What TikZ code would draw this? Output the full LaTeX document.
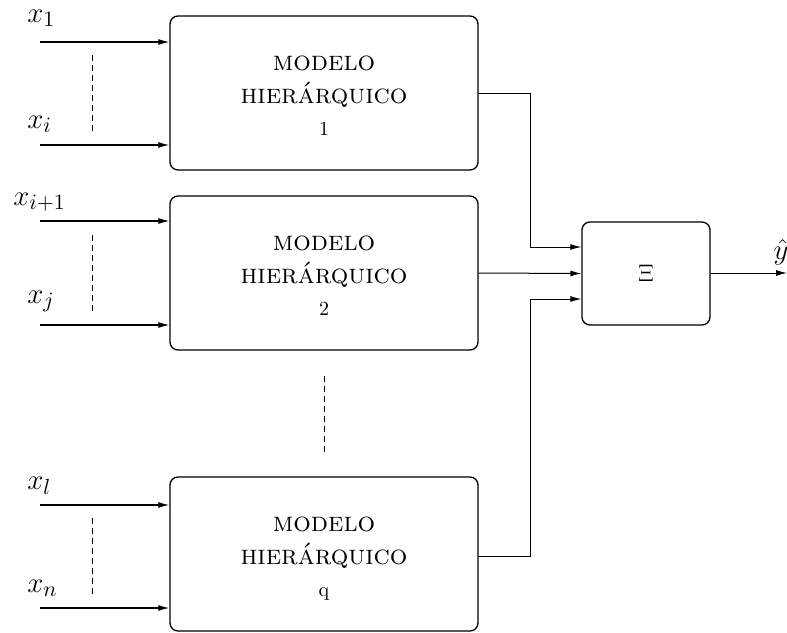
\documentclass[tikz,border=0pt]{standalone}
\usetikzlibrary{arrows.meta}
\newcommand\xlab[1]{$x_{\hbox{\fontsize{11}{13}\selectfont$#1$}}$}
\begin{document}
\begin{tikzpicture}[x=0.5pt,y=-0.5pt,
  modbox/.style={draw, line width=0.65pt, rounded corners=4pt, minimum width=154pt, minimum height=77pt, inner sep=0pt},
  xibox/.style={draw, line width=0.65pt, rounded corners=4pt, minimum width=64pt, minimum height=51.5pt, inner sep=0pt},
  inarrow/.style={line width=0.6pt, -{Latex[length=5.5pt,width=3pt]}},
  link/.style={line width=0.5pt, -{Latex[length=5.5pt,width=3pt]}},
  gap/.style={line width=0.5pt, dash pattern=on 3pt off 2pt},
  lbl/.style={anchor=base west, inner sep=0pt, font=\fontsize{13.5}{16}\selectfont},
  txt/.style={anchor=base, inner sep=0pt},
  sctxt/.style={txt, font=\fontsize{13.8}{16}\selectfont\scshape}
]
\useasboundingbox (0,0) rectangle (787,632);

% model blocks
\node[modbox] (b1) at (324,93) {};
\node[modbox] (b2) at (324,273) {};
\node[modbox] (bq) at (324,554) {};
\node[xibox, font=\fontsize{11.5}{13}\selectfont] (xi) at (646,273.5) {$\Xi$};

% block texts
\foreach \b/\n in {b1/1, b2/2, bq/q}{
  \node[sctxt] (\b t1) at ([yshift=11.5pt]\b.center) {modelo};
  \node[sctxt] (\b t2) at ([yshift=-5pt]\b.center) {hierárquico};
  \node[txt] (\b t3) at ([yshift=-21pt]\b.center) {\n};
}

% inputs
\coordinate (i1) at (40,42);
\coordinate (i2) at (40,145);
\coordinate (i3) at (40,221);
\coordinate (i4) at (40,325);
\coordinate (i5) at (40,505);
\coordinate (i6) at (40,608);
\draw[inarrow] (i1) -- (i1 -| b1.west);
\draw[inarrow] (i2) -- (i2 -| b1.west);
\draw[inarrow] (i3) -- (i3 -| b2.west);
\draw[inarrow] (i4) -- (i4 -| b2.west);
\draw[inarrow] (i5) -- (i5 -| bq.west);
\draw[inarrow] (i6) -- (i6 -| bq.west);

\node[lbl] (l1) at (27,22) {\xlab{1}};
\node[lbl] (l2) at (27,128) {\xlab{i}};
\node[lbl] (l3) at (13,205) {\xlab{i{+}1}};
\node[lbl] (l4) at (27,303) {\xlab{j}};
\node[lbl] (l5) at (27,489) {\xlab{l}};
\node[lbl] (l6) at (27,592) {\xlab{n}};

% ellipsis marks
\coordinate (d1a) at (92,55);  \coordinate (d1b) at (92,131);
\coordinate (d2a) at (92,235); \coordinate (d2b) at (92,312);
\coordinate (d3a) at (92,518); \coordinate (d3b) at (92,595);
\coordinate (d4a) at (324,376); \coordinate (d4b) at (324,455);
\draw[gap] (d1a) -- (d1b);
\draw[gap] (d2a) -- (d2b);
\draw[gap] (d3a) -- (d3b);
\draw[gap] (d4a) -- (d4b);

% links to the combiner
\coordinate (o1) at (478,93);
\coordinate (oq) at (478,556);
\draw[link] (o1) -| (530,247) -- (530,247 -| xi.west);
\draw[link] (b2.east) -- (xi.west);
\draw[link] (oq) -| (530,299) -- (530,299 -| xi.west);

% output
\coordinate (out) at (787,273);
\draw[link] (xi.east |- out) -- (out);
\node[inner sep=0pt, font=\fontsize{14}{16}\selectfont] (yh) at (781,252) {$\hat{y}$};
\end{tikzpicture}
\end{document}
